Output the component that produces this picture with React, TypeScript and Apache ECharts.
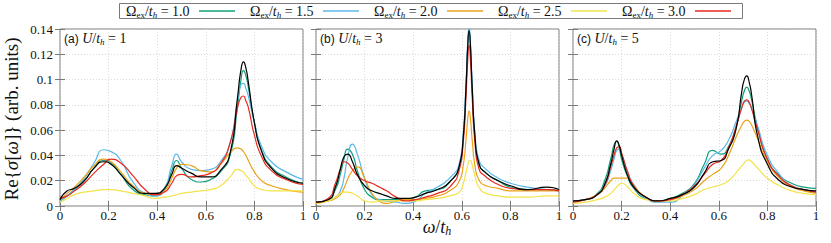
import React, { useEffect, useRef } from 'react';
import * as echarts from 'echarts';

// ---------- data ----------
const OMEGA_VALUES = ['1.0', '1.5', '2.0', '2.5', '3.0'];
const PANEL_TAGS = ['(a)', '(b)', '(c)'];
const U_VALUES = ['1', '3', '5'];
const X_TICKS = [0, 0.2, 0.4, 0.6, 0.8, 1];
const Y_TICKS = [0, 0.02, 0.04, 0.06, 0.08, 0.1, 0.12, 0.14];

// panel (a) U/t_h = 1
const X_A = [0, 0.03, 0.06, 0.1, 0.14, 0.18, 0.21, 0.25, 0.3, 0.35, 0.39, 0.43, 0.46, 0.48, 0.5, 0.54, 0.58, 0.62, 0.66, 0.7, 0.73, 0.745, 0.755, 0.765, 0.775, 0.8, 0.83, 0.87, 0.93, 1];
const A_REF = [0.005, 0.012, 0.014, 0.02, 0.03, 0.035, 0.033, 0.025, 0.015, 0.01, 0.01, 0.014, 0.025, 0.032, 0.03, 0.026, 0.023, 0.023, 0.028, 0.042, 0.085, 0.108, 0.114, 0.109, 0.098, 0.066, 0.043, 0.03, 0.022, 0.018];
const A_10 = [0.004, 0.008, 0.013, 0.02, 0.03, 0.036, 0.034, 0.025, 0.013, 0.009, 0.008, 0.013, 0.028, 0.036, 0.03, 0.021, 0.019, 0.021, 0.027, 0.04, 0.078, 0.1, 0.107, 0.103, 0.094, 0.066, 0.044, 0.031, 0.023, 0.018];
const A_15 = [0.004, 0.008, 0.013, 0.022, 0.034, 0.0445, 0.043, 0.036, 0.019, 0.01, 0.008, 0.014, 0.032, 0.041, 0.035, 0.029, 0.028, 0.029, 0.035, 0.05, 0.083, 0.096, 0.097, 0.093, 0.087, 0.066, 0.047, 0.035, 0.027, 0.021];
const A_20 = [0.005, 0.01, 0.015, 0.023, 0.032, 0.037, 0.035, 0.027, 0.016, 0.01, 0.009, 0.012, 0.022, 0.03, 0.033, 0.032, 0.028, 0.027, 0.033, 0.042, 0.046, 0.045, 0.043, 0.04, 0.036, 0.027, 0.02, 0.016, 0.013, 0.011];
const A_25 = [0.003, 0.006, 0.009, 0.011, 0.012, 0.013, 0.013, 0.012, 0.01, 0.008, 0.006, 0.007, 0.008, 0.009, 0.01, 0.011, 0.012, 0.013, 0.016, 0.023, 0.029, 0.028, 0.027, 0.024, 0.022, 0.016, 0.013, 0.012, 0.012, 0.012];
const A_30 = [0.006, 0.008, 0.012, 0.018, 0.026, 0.033, 0.037, 0.034, 0.024, 0.013, 0.009, 0.011, 0.018, 0.024, 0.025, 0.023, 0.024, 0.026, 0.033, 0.05, 0.077, 0.086, 0.087, 0.083, 0.078, 0.056, 0.039, 0.028, 0.021, 0.017];

// panel (b) U/t_h = 3
const X_B = [0, 0.05, 0.08, 0.1, 0.115, 0.13, 0.15, 0.17, 0.2, 0.23, 0.26, 0.29, 0.33, 0.37, 0.41, 0.45, 0.5, 0.55, 0.59, 0.605, 0.618, 0.624, 0.63, 0.636, 0.642, 0.655, 0.67, 0.7, 0.75, 0.8, 0.87, 0.95, 1];
const B_REF = [0.003, 0.005, 0.015, 0.029, 0.039, 0.041, 0.035, 0.025, 0.016, 0.012, 0.01, 0.008, 0.006, 0.006, 0.007, 0.01, 0.013, 0.019, 0.032, 0.052, 0.097, 0.125, 0.139, 0.125, 0.097, 0.053, 0.034, 0.026, 0.02, 0.016, 0.013, 0.015, 0.013];
const B_10 = [0.003, 0.005, 0.013, 0.025, 0.037, 0.045, 0.041, 0.028, 0.013, 0.007, 0.005, 0.005, 0.005, 0.005, 0.007, 0.012, 0.013, 0.019, 0.032, 0.052, 0.096, 0.124, 0.138, 0.124, 0.096, 0.052, 0.034, 0.026, 0.02, 0.015, 0.013, 0.013, 0.012];
const B_15 = [0.003, 0.004, 0.007, 0.012, 0.022, 0.038, 0.049, 0.041, 0.022, 0.009, 0.005, 0.004, 0.003, 0.002, 0.004, 0.01, 0.015, 0.022, 0.034, 0.055, 0.1, 0.128, 0.141, 0.128, 0.1, 0.055, 0.037, 0.029, 0.022, 0.018, 0.015, 0.013, 0.012];
const B_20 = [0.002, 0.004, 0.006, 0.009, 0.014, 0.021, 0.028, 0.031, 0.022, 0.01, 0.004, 0.002, 0.004, 0.005, 0.005, 0.006, 0.008, 0.012, 0.02, 0.031, 0.054, 0.068, 0.075, 0.068, 0.054, 0.031, 0.021, 0.016, 0.014, 0.012, 0.012, 0.012, 0.012];
const B_25 = [0.002, 0.004, 0.007, 0.01, 0.011, 0.011, 0.01, 0.008, 0.004, 0.003, 0.004, 0.004, 0.004, 0.004, 0.004, 0.005, 0.006, 0.008, 0.011, 0.017, 0.027, 0.032, 0.0355, 0.036, 0.033, 0.023, 0.015, 0.01, 0.008, 0.007, 0.007, 0.008, 0.008];
const B_30 = [0.003, 0.006, 0.018, 0.029, 0.035, 0.034, 0.029, 0.024, 0.02, 0.018, 0.015, 0.012, 0.007, 0.004, 0.005, 0.007, 0.01, 0.015, 0.029, 0.048, 0.089, 0.114, 0.127, 0.114, 0.089, 0.048, 0.03, 0.023, 0.017, 0.014, 0.013, 0.013, 0.012];

// panel (c) U/t_h = 5
const X_C = [0, 0.05, 0.1, 0.13, 0.155, 0.17, 0.18, 0.19, 0.2, 0.225, 0.25, 0.3, 0.35, 0.4, 0.45, 0.5, 0.54, 0.575, 0.61, 0.64, 0.67, 0.695, 0.705, 0.715, 0.725, 0.735, 0.76, 0.8, 0.85, 0.9, 0.95, 1];
const C_REF = [0.004, 0.005, 0.009, 0.017, 0.033, 0.046, 0.0515, 0.048, 0.04, 0.024, 0.015, 0.007, 0.004, 0.006, 0.009, 0.015, 0.026, 0.035, 0.036, 0.045, 0.06, 0.091, 0.1, 0.103, 0.098, 0.088, 0.055, 0.033, 0.02, 0.015, 0.013, 0.012];
const C_10 = [0.004, 0.005, 0.01, 0.02, 0.037, 0.049, 0.051, 0.046, 0.037, 0.023, 0.014, 0.006, 0.004, 0.006, 0.01, 0.018, 0.033, 0.044, 0.041, 0.047, 0.062, 0.084, 0.091, 0.094, 0.091, 0.084, 0.062, 0.037, 0.024, 0.018, 0.015, 0.014];
const C_15 = [0.004, 0.005, 0.009, 0.015, 0.028, 0.038, 0.044, 0.045, 0.041, 0.027, 0.017, 0.006, 0.003, 0.003, 0.008, 0.017, 0.03, 0.04, 0.044, 0.052, 0.066, 0.078, 0.082, 0.083, 0.081, 0.077, 0.063, 0.04, 0.025, 0.016, 0.013, 0.011];
const C_20 = [0.003, 0.005, 0.009, 0.014, 0.02, 0.022, 0.022, 0.022, 0.022, 0.022, 0.016, 0.007, 0.004, 0.005, 0.008, 0.013, 0.02, 0.025, 0.03, 0.04, 0.054, 0.064, 0.067, 0.068, 0.067, 0.064, 0.053, 0.035, 0.022, 0.015, 0.012, 0.01];
const C_25 = [0.002, 0.003, 0.005, 0.007, 0.01, 0.013, 0.015, 0.017, 0.018, 0.015, 0.01, 0.005, 0.004, 0.004, 0.006, 0.009, 0.013, 0.015, 0.017, 0.02, 0.026, 0.032, 0.034, 0.036, 0.0365, 0.035, 0.03, 0.022, 0.016, 0.012, 0.01, 0.009];
const C_30 = [0.003, 0.005, 0.009, 0.016, 0.031, 0.041, 0.046, 0.047, 0.042, 0.027, 0.016, 0.007, 0.004, 0.005, 0.009, 0.016, 0.025, 0.033, 0.036, 0.046, 0.062, 0.078, 0.083, 0.084, 0.082, 0.077, 0.06, 0.037, 0.023, 0.016, 0.013, 0.011];

// ---------- styling ----------
const SERIF = '"Liberation Serif", "Times New Roman", serif';
const SANS = '"Liberation Sans", Arial, sans-serif';
const COLORS = ['#12a07a', '#5cb8e8', '#eaa21a', '#f2e34a', '#e8281e'];
const REF_COLOR = '#000000';
const FRAME = '#7a7a7a';
const GRID_LEFTS = [60, 316, 573];
const GRID_TOP = 29;
const GRID_W = 243;
const GRID_H = 177;
const LEGEND_BOX = { x: 119.5, y: 3.5, w: 623, h: 15 };
const LEGEND_TEXT_X0 = 126;
const LEGEND_LINE_X0 = 199;
const LEGEND_STEP = 124;
const LEGEND_LINE_W = 36;

const PANELS = [
  { xs: X_A, ys: [A_10, A_15, A_20, A_25, A_30], ref: A_REF },
  { xs: X_B, ys: [B_10, B_15, B_20, B_25, B_30], ref: B_REF },
  { xs: X_C, ys: [C_10, C_15, C_20, C_25, C_30], ref: C_REF },
];

const seriesName = (v: string) => `Ωex/th = ${v}`;

function buildOption() {
  const grid = GRID_LEFTS.map((left) => ({
    left, top: GRID_TOP, width: GRID_W, height: GRID_H,
    show: true, borderColor: FRAME, borderWidth: 1, backgroundColor: 'transparent',
  }));
  const tick = { show: true, inside: true, length: 5, lineStyle: { color: FRAME, width: 1 } };
  const split = { show: true, lineStyle: { color: '#d2d2d2', width: 0.8, type: [1, 2] } };
  const xMin = X_TICKS[0], xMax = X_TICKS[X_TICKS.length - 1], xInt = X_TICKS[1] - X_TICKS[0];
  const yMin = Y_TICKS[0], yMax = Y_TICKS[Y_TICKS.length - 1], yInt = Y_TICKS[1] - Y_TICKS[0];
  const fmt = (v: number) => String(Math.round(v * 100) / 100);

  const xAxis: any[] = [];
  const yAxis: any[] = [];
  for (let i = 0; i < 3; i++) {
    xAxis.push({
      gridIndex: i, type: 'value', min: xMin, max: xMax, interval: xInt, position: 'bottom',
      axisLine: { show: false }, axisTick: tick, splitLine: split,
      axisLabel: { show: true, margin: 3, fontFamily: SERIF, fontSize: 13, color: '#111', formatter: fmt, showMinLabel: true, showMaxLabel: true },
    });
  }
  for (let i = 0; i < 3; i++) {
    xAxis.push({
      gridIndex: i, type: 'value', min: xMin, max: xMax, interval: xInt, position: 'top',
      axisLine: { show: false }, axisTick: tick, splitLine: { show: false }, axisLabel: { show: false },
    });
  }
  for (let i = 0; i < 3; i++) {
    yAxis.push({
      gridIndex: i, type: 'value', min: yMin, max: yMax, interval: yInt, position: 'left',
      axisLine: { show: false }, axisTick: tick, splitLine: split,
      axisLabel: { show: i === 0, margin: 7, fontFamily: SERIF, fontSize: 13, color: '#111', formatter: fmt, showMinLabel: true, showMaxLabel: true },
    });
  }
  for (let i = 0; i < 3; i++) {
    yAxis.push({
      gridIndex: i, type: 'value', min: yMin, max: yMax, interval: yInt, position: 'right',
      axisLine: { show: false }, axisTick: tick, splitLine: { show: false }, axisLabel: { show: false },
    });
  }

  const lineSeries = (name: string, i: number, xs: number[], ys: number[], color: string, z: number) => ({
    type: 'line', name, xAxisIndex: i, yAxisIndex: i,
    data: xs.map((x, j) => [x, ys[j]]),
    showSymbol: false, symbol: 'none', smooth: 0.6,
    lineStyle: { width: 1.2, color }, itemStyle: { color }, z,
  });

  const series: any[] = [];
  PANELS.forEach((p, i) => {
    p.ys.forEach((ys, k) => series.push(lineSeries(seriesName(OMEGA_VALUES[k]), i, p.xs, ys, COLORS[k], 2)));
    series.push(lineSeries('reference', i, p.xs, p.ref, REF_COLOR, 3));
  });

  const legendRich = {
    m: { fontFamily: SERIF, fontSize: 14, fill: '#111', lineHeight: 16 },
    i: { fontFamily: SERIF, fontSize: 14, fontStyle: 'italic', fill: '#111', lineHeight: 16 },
    s: { fontFamily: SERIF, fontSize: 9, fill: '#111', lineHeight: 9, verticalAlign: 'bottom' },
    si: { fontFamily: SERIF, fontSize: 9, fontStyle: 'italic', fill: '#111', lineHeight: 9, verticalAlign: 'bottom' },
  };

  const labelRich = {
    p: { fontFamily: SANS, fontSize: 12, fill: '#111', lineHeight: 15 },
    i: { fontFamily: SERIF, fontSize: 14, fontStyle: 'italic', fill: '#111', lineHeight: 15 },
    s: { fontFamily: SERIF, fontSize: 9, fontStyle: 'italic', fill: '#111', lineHeight: 9, verticalAlign: 'bottom' },
  };

  const graphic: any[] = [];
  graphic.push({
    type: 'rect', z: 20,
    shape: { x: LEGEND_BOX.x, y: LEGEND_BOX.y, width: LEGEND_BOX.w, height: LEGEND_BOX.h },
    style: { fill: '#ffffff', stroke: FRAME, lineWidth: 1 },
  });
  OMEGA_VALUES.forEach((v, k) => {
    const cy = LEGEND_BOX.y + LEGEND_BOX.h / 2;
    graphic.push({
      type: 'text', x: LEGEND_TEXT_X0 + k * LEGEND_STEP, y: cy, z: 21,
      style: {
        text: `{m|Ω}{s|ex}{m|/}{i|t}{si|h}{m| = ${v}}`,
        verticalAlign: 'middle', fontFamily: SERIF, fontSize: 14, fill: '#111', rich: legendRich,
      },
    });
    graphic.push({
      type: 'line', z: 21,
      shape: { x1: LEGEND_LINE_X0 + k * LEGEND_STEP, y1: cy, x2: LEGEND_LINE_X0 + k * LEGEND_STEP + LEGEND_LINE_W, y2: cy },
      style: { stroke: COLORS[k], lineWidth: 1.5 },
    });
  });
  PANELS.forEach((_, i) => {
    graphic.push({
      type: 'text', x: GRID_LEFTS[i] + 4, y: GRID_TOP + 2, z: 10,
      style: {
        text: `{p|${PANEL_TAGS[i]}} {i|U}/{i|t}{s|h} = ${U_VALUES[i]}`,
        fontFamily: SERIF, fontSize: 14, fill: '#111', rich: labelRich,
      },
    });
  });
  graphic.push({
    type: 'text', x: 437, y: 217, z: 10,
    style: {
      text: '{i|ω}/{i|t}{s|h}', align: 'center', fontFamily: SERIF, fontSize: 18, fill: '#111',
      rich: {
        i: { fontFamily: SERIF, fontSize: 18, fontStyle: 'italic', fill: '#111', lineHeight: 20 },
        s: { fontFamily: SERIF, fontSize: 12, fontStyle: 'italic', fill: '#111', lineHeight: 11, verticalAlign: 'bottom' },
      },
    },
  });
  graphic.push({
    type: 'text', x: 11, y: 119, rotation: Math.PI / 2, z: 10,
    style: {
      text: 'Re{{i|σ}[{i|ω}]} (arb. units)', align: 'center', verticalAlign: 'middle',
      fontFamily: SERIF, fontSize: 19, fill: '#111',
      rich: { i: { fontFamily: SERIF, fontSize: 19, fontStyle: 'italic', fill: '#111' } },
    },
  });

  return {
    animation: false,
    backgroundColor: '#ffffff',
    grid, xAxis, yAxis, series, graphic,
  };
}

export default function App() {
  const ref = useRef<HTMLDivElement>(null);
  useEffect(() => {
    const chart = echarts.init(ref.current!, null, { renderer: 'svg' });
    chart.setOption(buildOption() as any);
    return () => chart.dispose();
  }, []);
  return <div ref={ref} style={{ position: 'fixed', left: 0, top: 0, width: 831, height: 243 }} />;
}
